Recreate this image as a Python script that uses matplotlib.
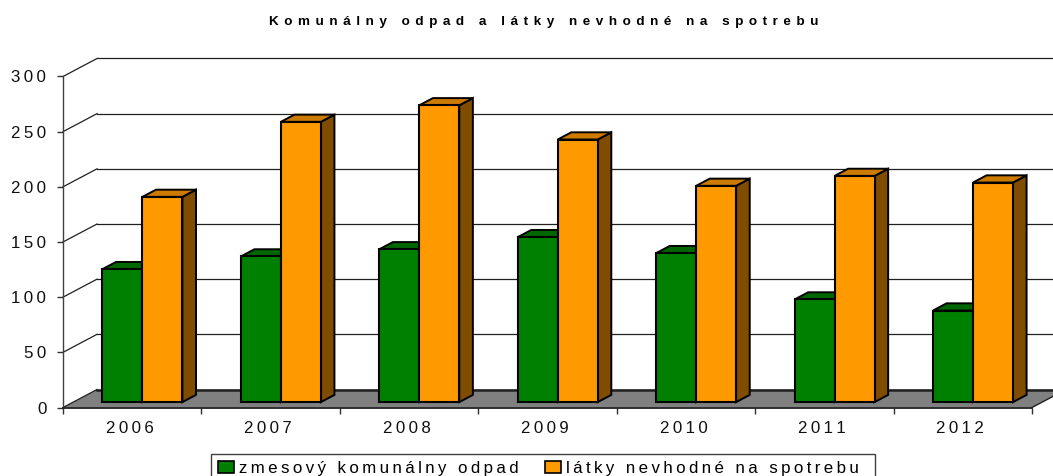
import matplotlib
matplotlib.use("Agg")
import matplotlib.pyplot as plt
from matplotlib.patches import Patch, Polygon
from matplotlib.transforms import ScaledTranslation

plt.rcParams['font.family'] = ['Liberation Sans', 'DejaVu Sans']

# -------------------------------
# Data
# -------------------------------
years = ["2006", "2007", "2008", "2009", "2010", "2011", "2012"]
zmesovy = [120.5, 132, 138.5, 149.5, 135, 93, 83]
latky = [186, 254, 269, 238, 196, 205, 199]
value_ticks = [0, 50, 100, 150, 200, 250, 300]

title = "Komunálny odpad a látky nevhodné na spotrebu"
name_zmesovy = "zmesový komunálny odpad"
name_latky = "látky nevhodné na spotrebu"

GREEN, GREEN_TOP, GREEN_SIDE = "#008000", "#006600", "#004000"
ORANGE, ORANGE_TOP, ORANGE_SIDE = "#FF9900", "#CC7A00", "#7F4C00"

SP = "\u2009"


def spaced(s, sep=SP):
    return sep.join(s)


# -------------------------------
# Figure, axes placed by pixels
# -------------------------------
W, H = 1053, 476
fig = plt.figure(figsize=(W / 100, H / 100), dpi=100)
ax = fig.add_axes([63 / W, 1 - 407.5 / H, 969 / W, 331 / H])
ax.set_xlim(0, len(years))
ax.set_ylim(0, 300)
ax.patch.set_visible(False)

# wall depth in data units
DX = 34 * len(years) / 969
DY = 18 * 300 / 331
BAR_W = 40 * len(years) / 969
D0, D1 = 0.3, 0.7   # bars sit between these depths

for s in ["top", "right"]:
    ax.spines[s].set_visible(False)
ax.spines["left"].set_color("#404040")
ax.spines["bottom"].set_color("#202020")
ax.spines["left"].set_linewidth(1.0)
ax.spines["bottom"].set_linewidth(1.3)

# floor
n = len(years)
ax.add_patch(Polygon([(0, 0), (n, 0), (n + DX, DY), (DX, DY)], closed=True,
                     facecolor="#808080", edgecolor="none", clip_on=False, zorder=1))
ax.plot([n, n + DX], [0, DY], color="#202020", lw=1.0, clip_on=False, zorder=1.5)

# grid on the back wall and the slanted bits on the left wall
for v in value_ticks:
    lw = 1.8 if v == 0 else 0.9
    ax.plot([DX, n + DX], [v + DY, v + DY], color="#202020", lw=lw, clip_on=False, zorder=1.5)
    ax.plot([0, DX], [v, v + DY], color="#202020", lw=0.9, clip_on=False, zorder=1.5)


# -------------------------------
# 3D bars
# -------------------------------
def bar3d(x, val, front, top, side):
    x0 = x + D0 * DX
    x1 = x0 + BAR_W
    y0 = D0 * DY
    y1 = y0 + val
    dx = (D1 - D0) * DX
    dy = (D1 - D0) * DY
    ax.add_patch(Polygon([(x1, y0), (x1 + dx, y0 + dy), (x1 + dx, y1 + dy), (x1, y1)],
                         facecolor=side, edgecolor="black", lw=1.4, clip_on=False, zorder=3))
    ax.add_patch(Polygon([(x0, y1), (x1, y1), (x1 + dx, y1 + dy), (x0 + dx, y1 + dy)],
                         facecolor=top, edgecolor="black", lw=1.4, clip_on=False, zorder=3))
    ax.bar(x0, val, BAR_W, bottom=y0, align="edge", color=front,
           edgecolor="black", lw=1.5, clip_on=False, zorder=4)


for i in range(n):
    bar3d(i + 0.5 - BAR_W, zmesovy[i], GREEN, GREEN_TOP, GREEN_SIDE)
    bar3d(i + 0.5, latky[i], ORANGE, ORANGE_TOP, ORANGE_SIDE)

# -------------------------------
# Ticks and labels
# -------------------------------
ax.set_yticks(value_ticks)
ax.set_yticklabels([spaced(str(v)) for v in value_ticks], fontsize=12.2, color="#101010")
ax.set_xticks(range(n + 1))
ax.set_xticklabels([""] * (n + 1))
ax.set_xticks([i + 0.5 for i in range(n)], [spaced(y) for y in years], minor=True,
              fontsize=12.2, color="#101010")
ax.tick_params(axis="x", which="major", length=4.5, width=1, color="#303030")
ax.tick_params(axis="x", which="minor", length=0, pad=9.5)
ax.tick_params(axis="y", length=4.5, width=1, color="#303030", pad=7.5)

# year labels sit a bit left of the category centre in the original
shift = ScaledTranslation(-2.5 / 100, 0, fig.dpi_scale_trans)
for lab in ax.get_xticklabels(minor=True):
    lab.set_transform(lab.get_transform() + shift)

fig.text(544 / W, 1 - 22.5 / H, spaced(title, SP + SP), fontsize=9.7, fontweight="bold",
         ha="center", va="center", color="black")

handles = [Patch(facecolor=GREEN, edgecolor="black", lw=1.2),
           Patch(facecolor=ORANGE, edgecolor="black", lw=1.2)]
leg = fig.legend(handles, [spaced(name_zmesovy), spaced(name_latky) + "  "], ncol=2,
                 loc="upper left", bbox_to_anchor=(211 / W, 1 - 453.5 / H), borderaxespad=0,
                 fontsize=12.2, fancybox=False, framealpha=1, edgecolor="#404040",
                 handlelength=0.95, handleheight=0.72, handletextpad=0.28,
                 columnspacing=1.55, borderpad=0.42)
leg.get_frame().set_linewidth(1.0)

fig.savefig("out.png", dpi=100)
